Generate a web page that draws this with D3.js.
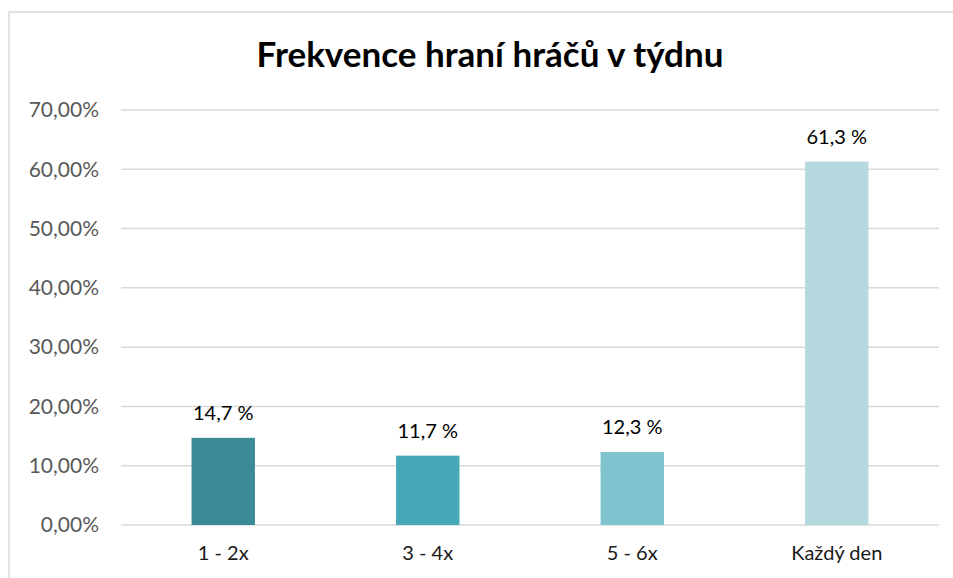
<!DOCTYPE html>
<html lang="cs">
<head>
<meta charset="UTF-8">
<script src="https://d3js.org/d3.v7.min.js"></script>
<title>Frekvence hraní hráčů v týdnu</title>
<style>
    body { margin: 0; background: #fff; }
    text { font-family: Lato, "Open Sans", sans-serif; }
</style>
</head>
<body>
<div id="chart"></div>
<script>
    // data
    const categories = ["1 - 2x", "3 - 4x", "5 - 6x", "Každý den"];
    const values = [14.7, 11.7, 12.3, 61.3];
    const barColors = ["#3a8b95", "#46a9b7", "#7fc3ce", "#b6d9df"];
    const yTicks = [0, 10, 20, 30, 40, 50, 60, 70];
    const title = "Frekvence hraní hráčů v týdnu";

    const width = 953, height = 578;
    const margin = { top: 110, right: 14, bottom: 53, left: 121 };

    const svg = d3.select("#chart").append("svg")
        .attr("width", width)
        .attr("height", height);

    // chart frame
    svg.append("rect")
        .attr("x", 9).attr("y", 12)
        .attr("width", width + 10).attr("height", height + 10)
        .attr("fill", "#fff")
        .attr("stroke", "#d9d9d9")
        .attr("stroke-width", 1.5);

    svg.append("text")
        .attr("x", 490).attr("y", 67)
        .attr("text-anchor", "middle")
        .attr("font-size", 35)
        .attr("font-weight", "bold")
        .attr("fill", "#000")
        .text(title);

    const x = d3.scaleBand()
        .domain(categories)
        .range([margin.left, width - margin.right])
        .paddingInner(0.69)
        .paddingOuter(0.345);

    const y = d3.scaleLinear()
        .domain([0, 70])
        .range([height - margin.bottom, margin.top]);

    // gridlines
    svg.append("g")
        .selectAll("line")
        .data(yTicks)
        .join("line")
        .attr("x1", margin.left)
        .attr("x2", width - margin.right)
        .attr("y1", d => y(d))
        .attr("y2", d => y(d))
        .attr("stroke", "#d9d9d9")
        .attr("stroke-width", 1.5);

    // y axis labels
    const yAxis = d3.axisLeft(y)
        .tickValues(yTicks)
        .tickSize(0)
        .tickPadding(22)
        .tickFormat(d => d3.format(".2f")(d).replace(".", ",") + "%");
    svg.append("g")
        .attr("transform", `translate(${margin.left},0)`)
        .call(yAxis)
        .call(g => g.select(".domain").remove())
        .selectAll("text")
        .attr("font-family", "Lato, sans-serif")
        .attr("font-size", 21)
        .attr("fill", "#595959");

    // x axis labels
    const xAxis = d3.axisBottom(x).tickSize(0).tickPadding(21);
    svg.append("g")
        .attr("transform", `translate(0,${height - margin.bottom})`)
        .call(xAxis)
        .call(g => g.select(".domain").remove())
        .selectAll("text")
        .attr("font-family", "Lato, sans-serif")
        .attr("font-size", 20)
        .attr("fill", "#1a1a1a");

    // bars
    svg.append("g")
        .selectAll("rect")
        .data(values)
        .join("rect")
        .attr("x", (d, i) => x(categories[i]))
        .attr("y", d => y(d))
        .attr("width", x.bandwidth())
        .attr("height", d => y(0) - y(d))
        .attr("fill", (d, i) => barColors[i]);

    // value labels
    svg.append("g")
        .selectAll("text")
        .data(values)
        .join("text")
        .attr("x", (d, i) => x(categories[i]) + x.bandwidth() / 2)
        .attr("y", d => y(d) - 18)
        .attr("text-anchor", "middle")
        .attr("font-size", 20)
        .attr("fill", "#000")
        .text(d => d3.format(".1f")(d).replace(".", ",") + " %");
</script>
</body>
</html>
